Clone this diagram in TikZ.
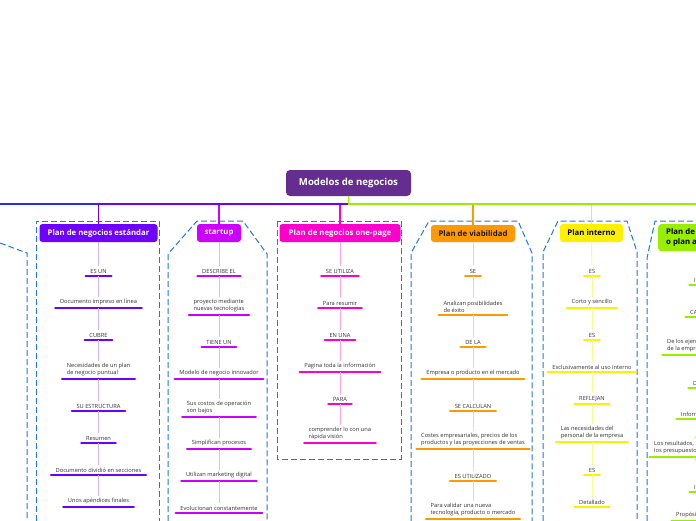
\documentclass[tikz,border=0pt]{standalone}
\usepackage{fontspec}
\setmainfont{Open Sans}
\definecolor{rootc}{HTML}{662D91}
\definecolor{cstd}{HTML}{6E00FF}
\definecolor{cstart}{HTML}{CC00FF}
\definecolor{cone}{HTML}{FF00CC}
\definecolor{cvia}{HTML}{FF9900}
\definecolor{cint}{HTML}{FFF000}
\definecolor{cgrn}{HTML}{99EE00}
\definecolor{cleft}{HTML}{2B2BEE}
\definecolor{bordc}{HTML}{1E78E6}
\definecolor{txt}{HTML}{333333}
\tikzset{
  hdr/.style={rounded corners=3pt, fill=#1, inner sep=0pt, font=\bfseries\fontsize{7.8}{10}\selectfont, text=white, align=center},
  item/.style={font=\fontsize{5.7}{7}\selectfont, text=txt, inner xsep=4.5pt, inner ysep=2.5pt, align=left, anchor=south,
    append after command={(\tikzlastnode.south west) edge[draw=#1, line width=2.6pt, line cap=round] (\tikzlastnode.south east)}},
  link/.style={draw=#1, line width=1pt},
  colborder/.style={draw=bordc, line width=1pt, dash pattern=on 6pt off 3pt},
  trunk/.style={draw=#1, line width=1.5pt}
}
\begin{document}
\begin{tikzpicture}[x=1pt,y=-1pt]
\useasboundingbox (0,0) rectangle (696,520);
\clip (0,0) rectangle (696,520);
\fill[white] (0,0) rectangle (696,520);

% column borders
\draw[colborder] (0,243) -- (27,253) -- (27,530);
\draw[colborder] (36,530) -- (36,221) -- (159,221) -- (159,530);
\draw[colborder] (168,530) -- (168,254) -- (197,221) -- (243,221) -- (267,254) -- (267,530);
\draw[colborder] (277,221) rectangle (401,459);
\draw[colborder] (411,530) -- (411,253) -- (429,221) -- (518,221) -- (532,253) -- (532,530);
\draw[colborder] (543,530) -- (543,252) -- (558,221) -- (627,221) -- (637,252) -- (637,530);
\draw[colborder] (647,530) -- (647,258) -- (655,221) -- (710,221);

% root
\node[rounded corners=4pt, fill=rootc, text=white, font=\bfseries\fontsize{9.6}{11}\selectfont, minimum width=125pt, minimum height=26pt, inner sep=0pt] (root) at (348.5,183) {Modelos de negocios};

% headers
\node[hdr=cstd, minimum width=118pt, minimum height=18pt] (hstd) at (98.5,233) {Plan de negocios estándar};
\node[hdr=cstart, minimum width=44pt, minimum height=18pt] (hstart) at (219,233) {startup};
\node[hdr=cone, minimum width=121pt, minimum height=18pt] (hone) at (340,233) {Plan de negocios one-page};
\node[hdr=cvia, text=black!90, minimum width=84pt, minimum height=17pt] (hvia) at (473,233.5) {Plan de viabilidad};
\node[hdr=cint, text=black, minimum width=63pt, minimum height=18pt] (hint) at (591.5,233) {Plan interno};
\node[hdr=cgrn, text=black, anchor=north west, minimum height=27pt, inner xsep=8pt, align=left] (hgrn) at (658,224) {Plan de negocios operativo\\o plan anual};

% trunk connectors
\coordinate (bus) at (0,204);
\coordinate (leftend) at (-10,204);
\draw[trunk=cone] (root.south) -- (root.south |- bus) -| (hone.north);
\draw[trunk=cstart] (root.south) -- (root.south |- bus) -| (hstart.north);
\draw[trunk=cleft] (root.south) -- (root.south |- bus) -- (leftend);
\draw[trunk=cstd] (root.south) -- (root.south |- bus) -| (hstd.north);
\draw[trunk=cvia] (root.south) -- (root.south |- bus) -| (hvia.north);
\draw[trunk=cint] (root.south) -- (root.south |- bus) -| (hint.north);
\draw[trunk=cgrn] (root.south) -- (root.south |- bus) -| (hgrn.north);

% estándar
\node[item=cstd] (s1) at (98.5,276) {ES UN};
\node[item=cstd] (s2) at (98.5,308) {Documento impreso en línea};
\node[item=cstd] (s3) at (98.5,340) {CUBRE};
\node[item=cstd] (s4) at (98.5,379) {Necesidades de un plan\\de negocio puntual};
\node[item=cstd] (s5) at (98.5,411) {SU ESTRUCTURA};
\node[item=cstd] (s6) at (98.5,443) {Resumen};
\node[item=cstd] (s7) at (98.5,475) {Documento dividió en secciones};
\node[item=cstd] (s8) at (98.5,507) {Unos apéndices finales};
\foreach \a/\b in {hstd/s1,s1/s2,s2/s3,s3/s4,s4/s5,s5/s6,s6/s7,s7/s8}
  \draw[link=cstd!30] (\a.south) -- (\b.north);

% startup
\node[item=cstart] (t1) at (219,276) {DESCRIBE EL};
\node[item=cstart] (t2) at (219,315) {proyecto mediante\\nuevas tecnologías};
\node[item=cstart] (t3) at (219,347) {TIENE UN};
\node[item=cstart] (t4) at (219,379) {Modelo de negocio innovador};
\node[item=cstart] (t5) at (219,417) {Sus costos de operación\\son bajos};
\node[item=cstart] (t6) at (219,449) {Simplifican procesos};
\node[item=cstart] (t7) at (219,481) {Utilizan marketing digital};
\node[item=cstart] (t8) at (219,513) {Evolucionan constantemente};
\foreach \a/\b in {hstart/t1,t1/t2,t2/t3,t3/t4,t4/t5,t5/t6,t6/t7,t7/t8}
  \draw[link=cstart!30] (\a.south) -- (\b.north);

% one-page
\node[item=cone] (o1) at (340,276) {SE UTILIZA};
\node[item=cone] (o2) at (340,308) {Para resumir};
\node[item=cone] (o3) at (340,340) {EN UNA};
\node[item=cone] (o4) at (340,372) {Pagina toda la información};
\node[item=cone] (o5) at (340,404) {PARA};
\node[item=cone] (o6) at (340,443) {comprender lo con una\\rápida visión};
\foreach \a/\b in {hone/o1,o1/o2,o2/o3,o3/o4,o4/o5,o5/o6}
  \draw[link=cone!35] (\a.south) -- (\b.north);

% viabilidad
\node[item=cvia] (v1) at (473,276) {SE};
\node[item=cvia] (v2) at (473,315) {Analizan posibilidades\\de éxito};
\node[item=cvia] (v3) at (473,347) {DE LA};
\node[item=cvia] (v4) at (473,379) {Empresa o producto en el mercado};
\node[item=cvia] (v5) at (473,411) {SE CALCULAN};
\node[item=cvia] (v6) at (473,449) {Costes empresariales, precios de los\\productos y las proyecciones de ventas};
\node[item=cvia] (v7) at (473,481) {ES UTILIZADO};
\node[item=cvia] (v8) at (473,519) {Para validar una nueva\\tecnología, producto o mercado};
\foreach \a/\b in {hvia/v1,v1/v2,v2/v3,v3/v4,v4/v5,v5/v6,v6/v7,v7/v8}
  \draw[link=cvia!40] (\a.south) -- (\b.north);

% interno
\node[item=cint] (i1) at (592,276) {ES};
\node[item=cint] (i2) at (592,308) {Corto y sencillo};
\node[item=cint] (i3) at (592,340) {ES};
\node[item=cint] (i4) at (592,372) {Exclusivamente al uso interno};
\node[item=cint] (i5) at (592,404) {REFLEJAN};
\node[item=cint] (i6) at (592,442) {Las necesidades del\\personal de la empresa};
\node[item=cint] (i7) at (592,475) {ES};
\node[item=cint] (i8) at (592,507) {Detallado};
\foreach \a/\b in {hint/i1,i1/i2,i2/i3,i3/i4,i4/i5,i5/i6,i6/i7,i7/i8}
  \draw[link=cint!45] (\a.south) -- (\b.north);

% green (cut at right edge)
\node[item=cgrn, anchor=south west] (g1) at (689.5,285) {INCLUYE LOS};
\node[item=cgrn, anchor=south west] (g2) at (685.5,317) {CARACTERÍSTICAS};
\node[item=cgrn, anchor=south west] (g3) at (662.5,355) {De los ejercicios anuales\\de la empresa};
\node[item=cgrn, anchor=south west] (g4) at (688.5,388) {DESCRIBE LA};
\node[item=cgrn, anchor=south west] (g5) at (676.5,419) {Información financiera};
\node[item=cgrn, anchor=south west] (g6) at (649.5,457) {Los resultados, los objetivos y\\los presupuestos anuales};
\node[item=cgrn, anchor=south west] (g7) at (689.5,492) {INDICA LOS};
\node[item=cgrn, anchor=south west] (g8) at (671.5,521) {Propósitos generales};
\foreach \a/\b in {hgrn/g1,g1/g2,g2/g3,g3/g4,g4/g5,g5/g6,g6/g7,g7/g8}
  \draw[link=cgrn!40] (\a.south) -- (\b.north);
\end{tikzpicture}
\end{document}
